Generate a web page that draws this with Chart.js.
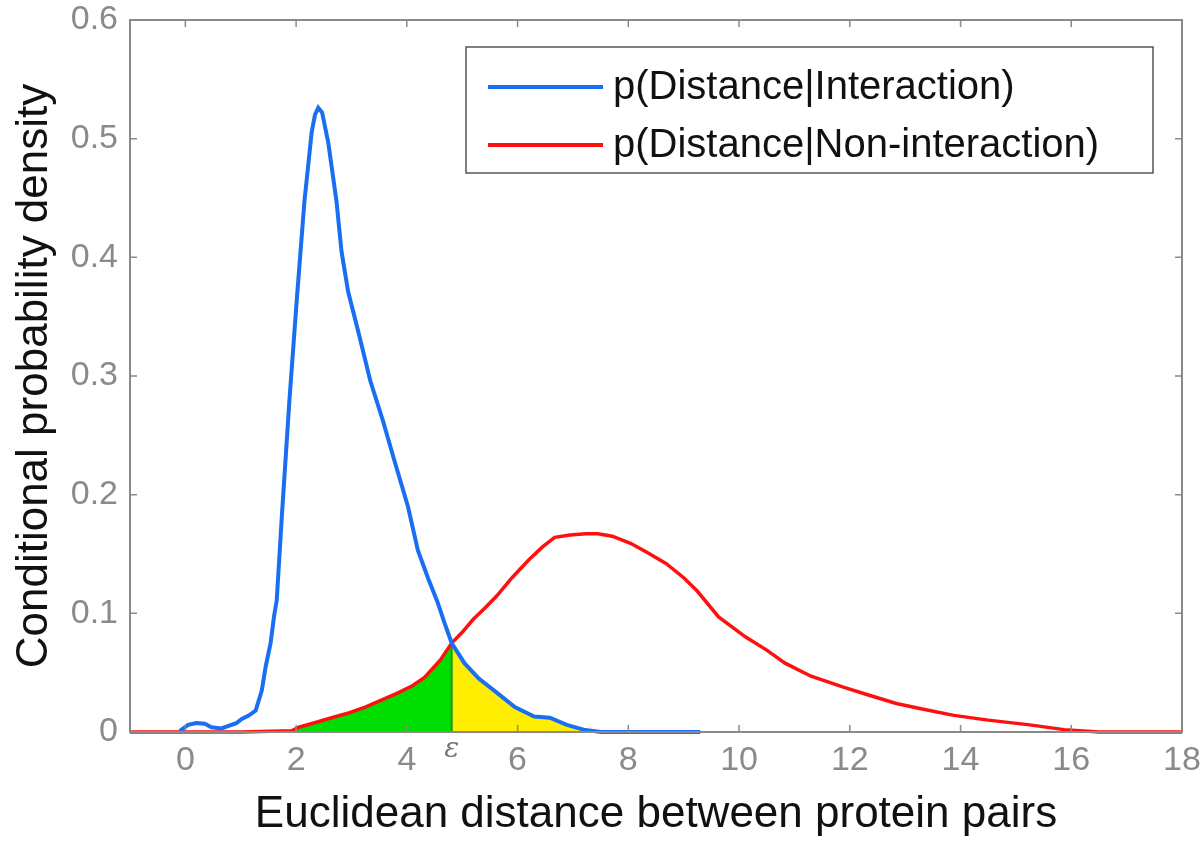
<!DOCTYPE html>
<html>
<head>
<meta charset="utf-8">
<script src="https://cdn.jsdelivr.net/npm/chart.js@4.4.1/dist/chart.umd.min.js"></script>
<style>
  html, body { margin: 0; padding: 0; background: #fff; }
  #wrap { width: 1200px; height: 845px; }
</style>
</head>
<body>
<div id="wrap"><canvas id="chart" width="1200" height="845"></canvas></div>
<script>
// values
const interactionX = [-0.1, 0.05, 0.2, 0.35, 0.47, 0.65, 0.92, 1.02, 1.15, 1.27, 1.38, 1.45, 1.54, 1.6, 1.65, 1.74, 1.88, 2.01, 2.15, 2.28, 2.34, 2.4, 2.47, 2.58, 2.73, 2.82, 2.94, 3.12, 3.34, 3.57, 3.78, 4.02, 4.2, 4.38, 4.55, 4.68, 4.81, 5.04, 5.3, 5.63, 5.95, 6.3, 6.58, 6.89, 7.19, 7.5, 8.5, 9.3];
const interactionY = [0.001, 0.006, 0.0075, 0.007, 0.004, 0.003, 0.0075, 0.011, 0.014, 0.018, 0.035, 0.055, 0.075, 0.097, 0.111, 0.18, 0.28, 0.363, 0.447, 0.505, 0.52, 0.526, 0.522, 0.497, 0.447, 0.405, 0.371, 0.338, 0.296, 0.262, 0.228, 0.19, 0.153, 0.13, 0.11, 0.092, 0.075, 0.058, 0.045, 0.033, 0.021, 0.013, 0.012, 0.006, 0.002, 0, 0, 0];

const nonInteractionX = [-1, 0, 1, 1.92, 2.05, 2.35, 2.64, 2.95, 3.25, 3.55, 3.84, 4.1, 4.32, 4.61, 4.81, 5.0, 5.2, 5.42, 5.63, 5.9, 6.2, 6.45, 6.67, 6.95, 7.23, 7.45, 7.71, 8.04, 8.35, 8.68, 9.0, 9.24, 9.63, 10.12, 10.5, 10.83, 11.3, 11.87, 12.35, 12.84, 13.35, 13.88, 14.5, 15.25, 15.87, 16.5, 17.2, 18];
const nonInteractionY = [0, 0, 0, 0.001, 0.004, 0.008, 0.012, 0.016, 0.021, 0.027, 0.033, 0.039, 0.046, 0.061, 0.075, 0.084, 0.095, 0.105, 0.115, 0.13, 0.145, 0.156, 0.164, 0.166, 0.167, 0.167, 0.165, 0.159, 0.151, 0.142, 0.13, 0.119, 0.097, 0.08, 0.069, 0.058, 0.047, 0.038, 0.031, 0.024, 0.019, 0.014, 0.01, 0.006, 0.002, 0, 0, 0];

const seriesLabels = ['p(Distance|Interaction)', 'p(Distance|Non-interaction)'];
const xTicks = [0, 2, 4, 6, 8, 10, 12, 14, 16, 18];
const yTicks = [0, 0.1, 0.2, 0.3, 0.4, 0.5, 0.6];

// decision threshold and the crossing height
const epsilon = 4.81;
const epsilonY = 0.075;
const greenStart = 1.9;
const yellowEnd = 7.5;

const toPoints = (xs, ys) => xs.map((x, i) => ({ x: x, y: ys[i] }));
const interactionPts = toPoints(interactionX, interactionY);
const nonInteractionPts = toPoints(nonInteractionX, nonInteractionY);
const crossPt = { x: epsilon, y: epsilonY };

const greenPts = nonInteractionPts.filter(p => p.x >= greenStart && p.x < epsilon).concat([crossPt]);
const yellowPts = [crossPt].concat(interactionPts.filter(p => p.x > epsilon && p.x <= yellowEnd));

const AXIS_GREY = '#8a8a8a';

const matlabFrame = {
  id: 'matlabFrame',
  afterDraw(chart) {
    const { ctx, chartArea: a, scales } = chart;
    ctx.save();
    // box + inward ticks
    ctx.strokeStyle = AXIS_GREY;
    ctx.lineWidth = 2;
    ctx.strokeRect(a.left, a.top, a.right - a.left, a.bottom - a.top);
    ctx.lineWidth = 1.5;
    ctx.beginPath();
    xTicks.forEach(v => {
      const px = scales.x.getPixelForValue(v);
      ctx.moveTo(px, a.bottom); ctx.lineTo(px, a.bottom - 7);
      ctx.moveTo(px, a.top); ctx.lineTo(px, a.top + 7);
    });
    yTicks.forEach(v => {
      const py = scales.y.getPixelForValue(v);
      ctx.moveTo(a.left, py); ctx.lineTo(a.left + 7, py);
      ctx.moveTo(a.right, py); ctx.lineTo(a.right - 7, py);
    });
    ctx.stroke();

    // epsilon label under the axis
    ctx.fillStyle = '#777';
    ctx.font = 'italic 28px "DejaVu Serif"';
    ctx.textAlign = 'center';
    ctx.textBaseline = 'middle';
    ctx.fillText('\u03b5', scales.x.getPixelForValue(epsilon), 750);

    // legend box
    const lx = 466, ly = 47, lw = 687, lh = 126;
    ctx.fillStyle = '#fff';
    ctx.fillRect(lx, ly, lw, lh);
    ctx.strokeStyle = '#555';
    ctx.lineWidth = 1.5;
    ctx.strokeRect(lx, ly, lw, lh);
    ctx.font = '40px "Liberation Sans", Arial, sans-serif';
    ctx.textAlign = 'left';
    ctx.textBaseline = 'middle';
    [0, 1].forEach(i => {
      const ds = chart.data.datasets[i];
      const y = ly + 40 + i * 58;
      ctx.strokeStyle = ds.borderColor;
      ctx.lineWidth = 4;
      ctx.beginPath();
      ctx.moveTo(lx + 22, y);
      ctx.lineTo(lx + 137, y);
      ctx.stroke();
      ctx.fillStyle = '#111';
      ctx.fillText(ds.label, lx + 147, y + 1);
    });
    ctx.restore();
  }
};

new Chart(document.getElementById('chart'), {
  type: 'line',
  data: {
    datasets: [
      {
        label: seriesLabels[0],
        data: interactionPts,
        borderColor: '#1a6ef2',
        borderWidth: 4,
        pointRadius: 0,
        fill: false,
        clip: 4,
        order: 1,
      },
      {
        label: seriesLabels[1],
        data: nonInteractionPts,
        borderColor: '#ff1010',
        borderWidth: 3.5,
        pointRadius: 0,
        fill: false,
        clip: 4,
        order: 2,
      },
      {
        label: '',
        data: greenPts,
        borderWidth: 0,
        borderColor: 'rgba(0,0,0,0)',
        backgroundColor: '#00dd00',
        pointRadius: 0,
        fill: 'origin',
        order: 4,
      },
      {
        label: '',
        data: yellowPts,
        borderWidth: 0,
        borderColor: 'rgba(0,0,0,0)',
        backgroundColor: '#ffee00',
        pointRadius: 0,
        fill: 'origin',
        order: 4,
      },
      {
        label: '',
        data: [{ x: epsilon, y: 0 }, crossPt],
        borderColor: '#1f9a1f',
        borderWidth: 2,
        pointRadius: 0,
        fill: false,
        order: 3,
      },
    ],
  },
  options: {
    responsive: false,
    animation: false,
    layout: { padding: { top: 20, right: 18, left: 0, bottom: 0 } },
    plugins: {
      legend: { display: false },
      tooltip: { enabled: false },
    },
    scales: {
      x: {
        type: 'linear',
        min: -1,
        max: 18,
        afterFit: s => {
          s.height = 113;
          s.paddingLeft = 0;
          s.paddingRight = 0;
        },
        afterBuildTicks: s => { s.ticks = xTicks.map(v => ({ value: v })); },
        grid: { display: false, drawTicks: false },
        border: { display: false },
        ticks: {
          padding: 8,
          color: AXIS_GREY,
          font: { family: '"Liberation Sans", Arial, sans-serif', size: 34 },
          callback: v => String(v),
        },
        title: {
          display: true,
          text: 'Euclidean distance between protein pairs',
          color: '#111',
          font: { family: '"Liberation Sans", Arial, sans-serif', size: 44 },
          padding: { top: 0, bottom: 4 },
        },
      },
      y: {
        type: 'linear',
        min: 0,
        max: 0.6,
        afterFit: s => {
          s.width = 130;
          s.paddingTop = 0;
          s.paddingBottom = 0;
        },
        afterBuildTicks: s => { s.ticks = yTicks.map(v => ({ value: v })); },
        grid: { display: false, drawTicks: false },
        border: { display: false },
        ticks: {
          padding: 12,
          color: AXIS_GREY,
          font: { family: '"Liberation Sans", Arial, sans-serif', size: 34 },
          callback: v => (v === 0 ? '0' : v.toFixed(1)),
        },
        title: {
          display: true,
          text: 'Conditional probability density',
          color: '#111',
          font: { family: '"Liberation Sans", Arial, sans-serif', size: 44 },
          padding: { top: 8, bottom: 0 },
        },
      },
    },
  },
  plugins: [matlabFrame],
});
</script>
</body>
</html>
